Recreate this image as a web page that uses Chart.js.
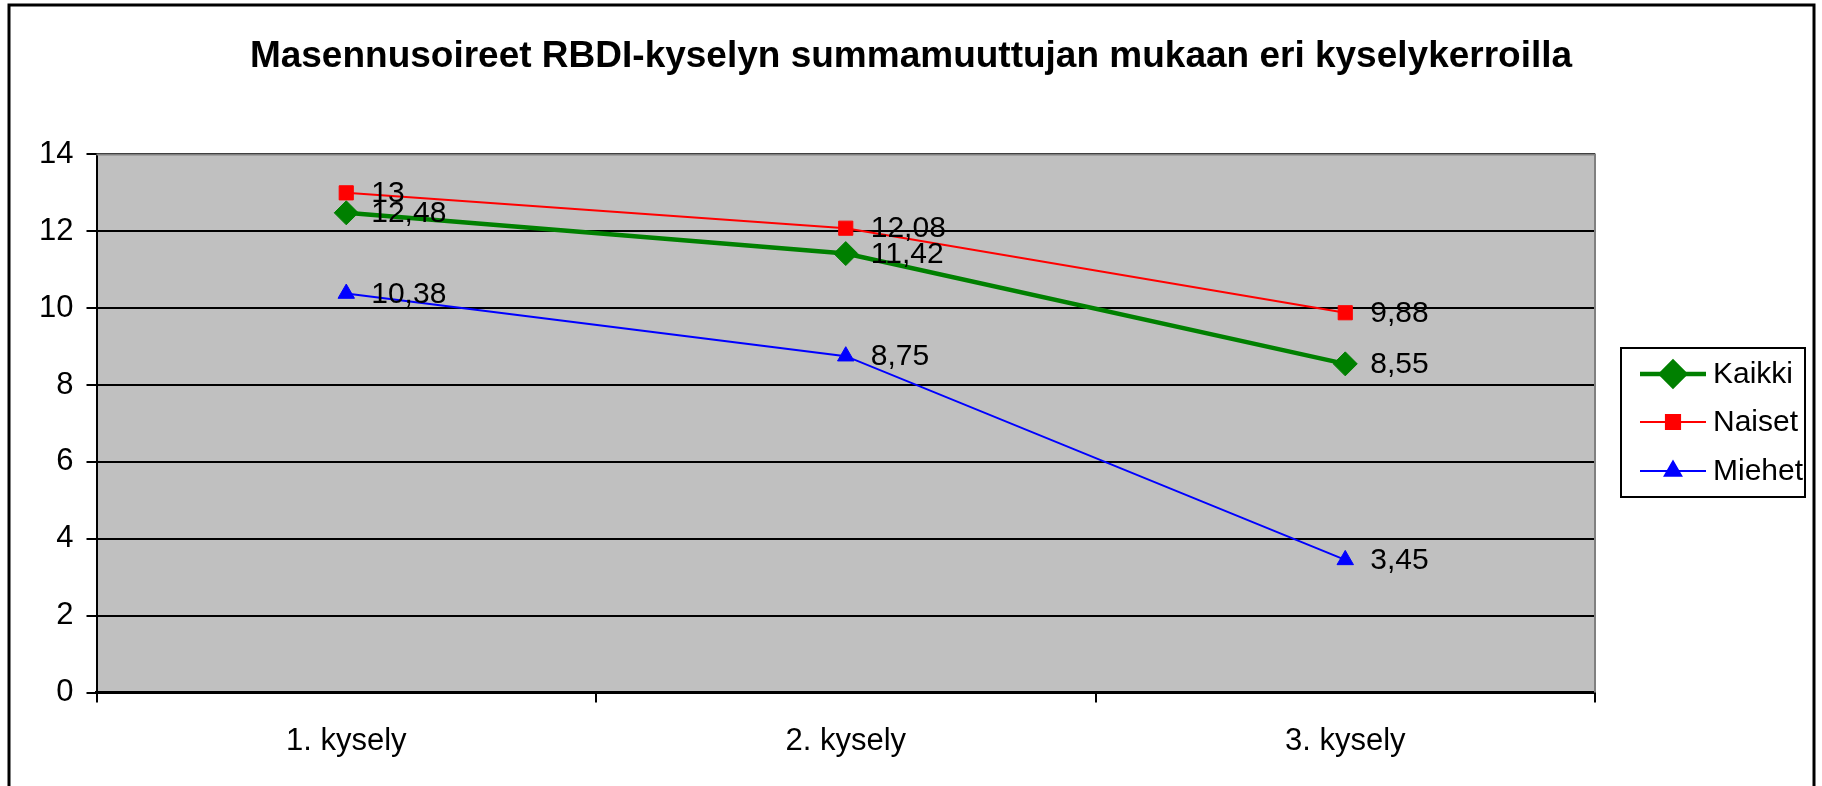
<!DOCTYPE html>
<html>
<head>
<meta charset="utf-8">
<script src="https://cdn.jsdelivr.net/npm/chart.js"></script>
<style>
  html, body { margin: 0; padding: 0; background: #fff; }
</style>
</head>
<body>
<canvas id="myChart" width="1822" height="786"></canvas>
<script>
const labels = ['1. kysely', '2. kysely', '3. kysely']
const kaikki = [12.48, 11.42, 8.55]
const naiset = [13, 12.08, 9.88]
const miehet = [10.38, 8.75, 3.45]
const yTicks = [0, 2, 4, 6, 8, 10, 12, 14]
const title = 'Masennusoireet RBDI-kyselyn summamuuttujan mukaan eri kyselykerroilla'

Chart.defaults.font.family = '"Liberation Sans", Arial, sans-serif'
Chart.defaults.color = '#000'

const fmt = v => String(v).replace('.', ',')

// gray plot area, outer frame
const background = {
  id: 'background',
  beforeDraw(chart) {
    const { ctx, chartArea: a } = chart
    ctx.save()
    ctx.fillStyle = '#fff'
    ctx.fillRect(0, 0, chart.width, chart.height)
    ctx.fillStyle = '#C0C0C0'
    ctx.fillRect(a.left, a.top, a.right - a.left, a.bottom - a.top)
    ctx.strokeStyle = '#000'
    ctx.lineWidth = 3
    ctx.strokeRect(9, 5, 1805, 800)
    ctx.restore()
  },
  beforeDatasetsDraw(chart) {
    const { ctx, chartArea: a } = chart
    ctx.save()
    ctx.strokeStyle = '#808080'
    ctx.lineWidth = 2
    ctx.beginPath()
    ctx.moveTo(a.left, a.top)
    ctx.lineTo(a.right, a.top)
    ctx.lineTo(a.right, a.bottom)
    ctx.stroke()
    ctx.restore()
  }
}

// value labels right of each point
const valueLabels = {
  id: 'valueLabels',
  afterDatasetsDraw(chart) {
    const ctx = chart.ctx
    ctx.save()
    ctx.font = '30px "Liberation Sans", Arial, sans-serif'
    ctx.fillStyle = '#000'
    ctx.textAlign = 'left'
    ctx.textBaseline = 'middle'
    chart.data.datasets.forEach((ds, i) => {
      chart.getDatasetMeta(i).data.forEach((pt, j) => {
        ctx.fillText(fmt(ds.data[j]), pt.x + 25, pt.y + 1)
      })
    })
    ctx.restore()
  }
}

// excel style legend with line + marker
const boxLegend = {
  id: 'boxLegend',
  afterDraw(chart) {
    const ctx = chart.ctx
    ctx.save()
    ctx.strokeStyle = '#000'
    ctx.lineWidth = 2
    ctx.strokeRect(1621, 348, 184, 149)
    ctx.font = '30px "Liberation Sans", Arial, sans-serif'
    ctx.textBaseline = 'middle'
    ctx.textAlign = 'left'
    const rows = [374, 422, 471]
    chart.data.datasets.forEach((ds, i) => {
      const y = rows[i]
      ctx.strokeStyle = ds.borderColor
      ctx.lineWidth = ds.borderWidth
      ctx.beginPath()
      ctx.moveTo(1640, y)
      ctx.lineTo(1706, y)
      ctx.stroke()
      ctx.fillStyle = ds.backgroundColor
      ctx.strokeStyle = ds.borderColor
      Chart.helpers.drawPoint(ctx, { pointStyle: ds.pointStyle, radius: ds.pointRadius, rotation: 0, borderWidth: 1 }, 1673, y)
      ctx.fillStyle = '#000'
      ctx.fillText(ds.label, 1713, y + 1)
    })
    ctx.restore()
  }
}

const ctx = document.getElementById('myChart')
const chart = new Chart(ctx, {
  type: 'line',
  data: {
    labels: labels,
    datasets: [{
      label: 'Kaikki',
      data: kaikki,
      borderColor: '#008000',
      backgroundColor: '#008000',
      borderWidth: 4.5,
      pointStyle: 'rectRot',
      pointRadius: 12,
      pointBorderWidth: 1
    }, {
      label: 'Naiset',
      data: naiset,
      borderColor: '#FF0000',
      backgroundColor: '#FF0000',
      borderWidth: 2,
      pointStyle: 'rect',
      pointRadius: 10,
      pointBorderWidth: 1
    }, {
      label: 'Miehet',
      data: miehet,
      borderColor: '#0000FF',
      backgroundColor: '#0000FF',
      borderWidth: 2,
      pointStyle: 'triangle',
      pointRadius: 9.5,
      pointBorderWidth: 1
    }]
  },
  options: {
    responsive: false,
    animation: false,
    devicePixelRatio: 1,
    layout: { padding: 0 },
    plugins: {
      legend: { display: false },
      tooltip: { enabled: false },
      title: {
        display: true,
        text: title,
        color: '#000',
        font: { size: 37, weight: 'bold' },
        padding: { top: 35, bottom: 75 }
      }
    },
    scales: {
      x: {
        offset: true,
        grid: { offset: true, drawOnChartArea: false, color: '#000', lineWidth: 2, tickLength: 10 },
        border: { color: '#000', width: 3 },
        ticks: { font: { size: 31 }, color: '#000', padding: 20, maxRotation: 0 },
        afterFit: s => { s.height = 93.5 }
      },
      y: {
        min: 0,
        max: 14,
        afterBuildTicks: s => { s.ticks = yTicks.map(v => ({ value: v })) },
        grid: { color: '#000', lineWidth: 2, tickLength: 10 },
        border: { color: '#000', width: 2 },
        ticks: { font: { size: 31 }, color: '#000', padding: 13 },
        afterFit: s => { s.width = 96.5 }
      },
      // empty right axis keeps room for the legend box
      side: {
        position: 'right',
        display: true,
        grid: { display: false },
        border: { display: false },
        ticks: { display: false },
        afterFit: s => { s.width = 227 }
      }
    }
  },
  plugins: [background, valueLabels, boxLegend]
})
</script>
</body>
</html>
